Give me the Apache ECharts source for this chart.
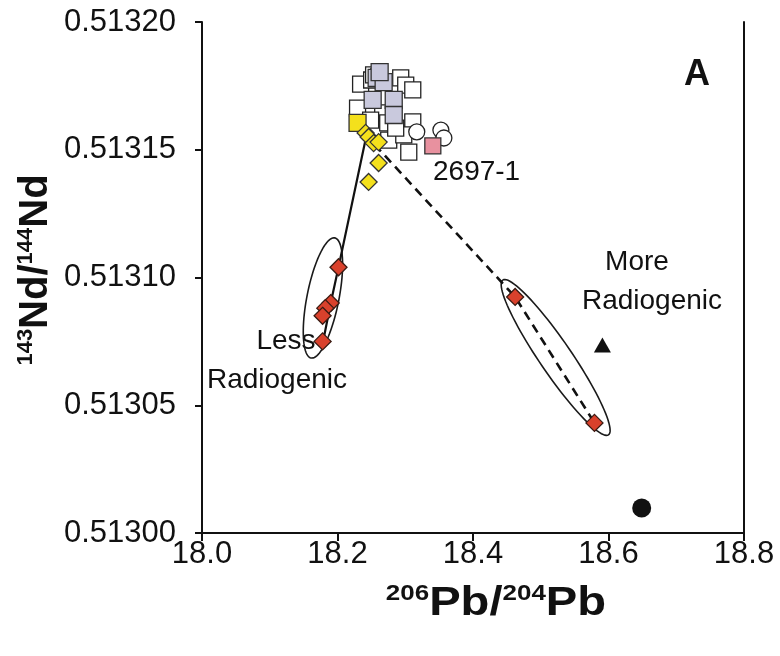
<!DOCTYPE html>
<html><head><meta charset="utf-8">
<script src="https://cdn.jsdelivr.net/npm/echarts@6/dist/echarts.min.js"></script>
<style>html,body{margin:0;padding:0;background:#fff}#c{width:780px;height:656px}</style>
</head><body><div id="c"></div>
<script>
// ---- data (206Pb/204Pb, 143Nd/144Nd) ----
const xTicks = [18.0, 18.2, 18.4, 18.6, 18.8];
const yTicks = [0.51300, 0.51305, 0.51310, 0.51315, 0.51320];
const openSquares = [
  [18.2296,0.5131663],[18.2341,0.5131757],[18.2504,0.5131773],[18.2533,0.5131793],
  [18.2607,0.5131785],[18.2933,0.5131781],[18.3007,0.5131753],[18.3111,0.5131734],
  [18.2667,0.5131644],[18.2741,0.5131605],[18.2756,0.5131538],[18.3052,0.5131491],
  [18.3111,0.5131609],[18.2978,0.5131558],[18.2859,0.5131585],[18.2489,0.5131616]
];
const lavenderSquares = [
  [18.2519,0.5131695],[18.2830,0.5131695],[18.2830,0.5131636],
  [18.2578,0.5131781],[18.2681,0.5131765],[18.2622,0.5131804]
];
const openCircles = [[18.317,0.5131570],[18.3526,0.5131577],[18.357,0.5131546]];
const pinkSquare = [[18.3407,0.5131515]];
const yellowSquare = [[18.2296,0.5131605]];
const yellowDiamonds = [
  [18.2415,0.5131566],[18.2459,0.513155],[18.2533,0.5131526],
  [18.2607,0.513153],[18.2607,0.5131448],[18.2459,0.5131374]
];
const redLess = [[18.2015,0.513104],[18.190,0.513090],[18.182,0.513088],[18.178,0.513085],[18.178,0.513075]];
const redMore = [[18.4622,0.5130924],[18.5793,0.5130431]];
const triangle = [[18.591,0.5130736]];
const blackCircle = [[18.649,0.5130098]];
const solidTrend = [[18.178,0.513074],[18.190,0.513090],[18.2015,0.513104],[18.243,0.513156]];
const dashedTrend = [[18.255,0.513152],[18.4622,0.5130924],[18.5793,0.5130431]];
// ellipse end points (x1,y1,x2,y2) in data units
const ellipses = [[18.196,0.5131155,18.161,0.5130685],[18.444,0.513099,18.600,0.5130384]];

const FONT = '"Liberation Sans", Arial, Helvetica, sans-serif';
const chart = echarts.init(document.getElementById('c'));

function sc(name, data, symbol, size, color, border, z, bw) {
  return {type:'scatter', name, data, symbol, symbolSize:size, z:z,
    itemStyle:{color:color, borderColor:border, borderWidth:bw===undefined?1.3:bw, opacity:1},
    emphasis:{disabled:true}, silent:true};
}

chart.setOption({
  animation:false,
  grid:{left:202, right:36, top:22, bottom:123},
  xAxis:{type:'value', min:18.0, max:18.8, interval:0.2,
    axisLine:{show:true, onZero:false, lineStyle:{color:'#111', width:2}},
    axisTick:{show:true, inside:false, length:8, lineStyle:{color:'#111', width:2}},
    splitLine:{show:false},
    axisLabel:{margin:6, fontSize:31, color:'#111', fontFamily:FONT,
      formatter:v => xTicks.find(t=>Math.abs(t-v)<1e-6)!==undefined ? v.toFixed(1) : ''}
  },
  yAxis:[{type:'value', min:0.51300, max:0.51320, interval:0.00005,
    axisLine:{show:true, onZero:false, lineStyle:{color:'#111', width:2}},
    axisTick:{show:true, inside:false, length:7, lineStyle:{color:'#111', width:2}},
    splitLine:{show:false},
    axisLabel:{margin:26, fontSize:31, color:'#111', fontFamily:FONT,
      formatter:v => yTicks.find(t=>Math.abs(t-v)<1e-9)!==undefined ? v.toFixed(5) : ''}
  },{type:'value', min:0.51300, max:0.51320, position:'right',
    axisLine:{show:true, lineStyle:{color:'#111', width:2}},
    axisTick:{show:false}, axisLabel:{show:false}, splitLine:{show:false}}],
  series:[
    {type:'custom', name:'ellipses', data:ellipses, z:1, silent:true,
      encode:{x:[0,2], y:[1,3]},
      renderItem:function(params, api){
        const p1 = api.coord([api.value(0), api.value(1)]);
        const p2 = api.coord([api.value(2), api.value(3)]);
        const cx=(p1[0]+p2[0])/2, cy=(p1[1]+p2[1])/2;
        const a=Math.hypot(p2[0]-p1[0], p2[1]-p1[1])/2, b=16;
        const t=Math.atan2(p2[1]-p1[1], p2[0]-p1[0]);
        const pts=[];
        for(let i=0;i<96;i++){const u=i/96*Math.PI*2;
          const ex=a*Math.cos(u), ey=b*Math.sin(u);
          pts.push([cx+ex*Math.cos(t)-ey*Math.sin(t), cy+ex*Math.sin(t)+ey*Math.cos(t)]);}
        return {type:'polygon', shape:{points:pts}, style:{fill:null, stroke:'#1a1a1a', lineWidth:1.6}};
      }},
    sc('open squares', openSquares, 'rect', 16, '#ffffff', '#222', 2),
    sc('lavender squares', lavenderSquares, 'rect', 17, '#c9c9dd', '#333', 3),
    sc('open circles', openCircles, 'circle', 16, '#ffffff', '#222', 3),
    sc('2697-1', pinkSquare, 'rect', 16, '#e8919f', '#333', 3),
    sc('yellow square', yellowSquare, 'rect', 17, '#f4e01c', '#333', 4),
    {type:'line', data:solidTrend, symbol:'none', z:4, silent:true,
      lineStyle:{color:'#111', width:2.2}},
    {type:'line', data:dashedTrend, symbol:'none', z:4, silent:true,
      lineStyle:{color:'#111', width:2.6, type:[9,6]}},
    sc('yellow diamonds', yellowDiamonds, 'diamond', 17, '#f4e01c', '#333', 5),
    sc('less radiogenic', redLess, 'diamond', 17, '#d9412c', '#3a1a12', 6),
    sc('more radiogenic', redMore, 'diamond', 17, '#d9412c', '#3a1a12', 6),
    sc('triangle', triangle, 'triangle', [17,15], '#111', '#111', 6, 0),
    sc('black circle', blackCircle, 'circle', 19, '#111', '#111', 6, 0)
  ],
  graphic:[
    {type:'text', x:433, y:172, style:{text:'2697-1', font:'28px '+FONT, fill:'#111', verticalAlign:'middle'}},
    {type:'text', x:637, y:262, style:{text:'More', font:'28px '+FONT, fill:'#111', align:'center', verticalAlign:'middle'}},
    {type:'text', x:652, y:301, style:{text:'Radiogenic', font:'28px '+FONT, fill:'#111', align:'center', verticalAlign:'middle'}},
    {type:'text', x:286, y:341, style:{text:'Less', font:'28px '+FONT, fill:'#111', align:'center', verticalAlign:'middle'}},
    {type:'text', x:277, y:380, style:{text:'Radiogenic', font:'28px '+FONT, fill:'#111', align:'center', verticalAlign:'middle'}},
    {type:'text', x:697, y:75, style:{text:'A', font:'bold 36px '+FONT, fill:'#111', align:'center', verticalAlign:'middle'}},
    {type:'text', x:496, y:604, scaleX:1.18, style:{text:'{s|206}{b|Pb/}{s|204}{b|Pb}', align:'center', verticalAlign:'middle',
      rich:{s:{fontSize:22, fontWeight:'bold', fontFamily:FONT, verticalAlign:'top', lineHeight:26, fill:'#111'},
            b:{fontSize:40, fontWeight:'bold', fontFamily:FONT, lineHeight:42, fill:'#111'}}}},
    {type:'text', x:36, y:270, rotation:Math.PI/2, style:{text:'{s|143}{b|Nd/}{s|144}{b|Nd}', align:'center', verticalAlign:'middle',
      rich:{s:{fontSize:22, fontWeight:'bold', fontFamily:FONT, verticalAlign:'top', lineHeight:26, fill:'#111'},
            b:{fontSize:40, fontWeight:'bold', fontFamily:FONT, lineHeight:42, fill:'#111'}}}}
  ]
});
</script></body></html>
